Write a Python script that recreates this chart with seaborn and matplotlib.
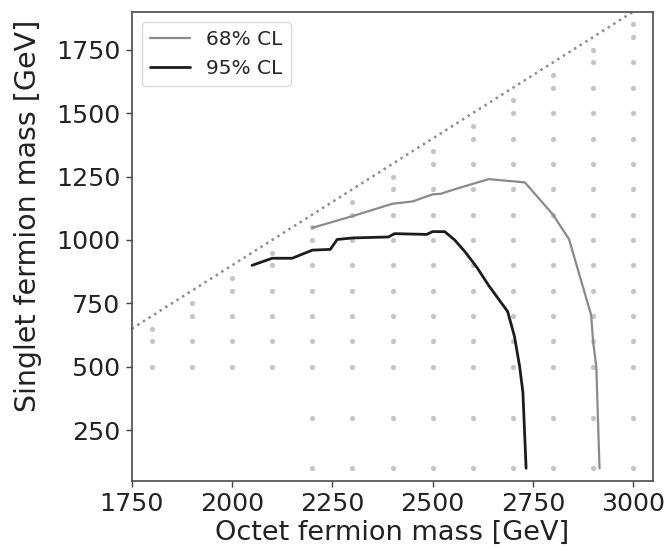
import matplotlib
matplotlib.use("Agg")
import matplotlib.pyplot as plt
import seaborn as sns
import pandas as pd

# 68% CL exclusion contour (octet mass, singlet mass) in GeV
cl68_octet = [2200, 2300, 2400, 2450, 2500, 2520, 2555, 2640, 2730, 2800, 2840,
              2895, 2900, 2908, 2916]
cl68_singlet = [1048, 1094, 1143, 1152, 1180, 1182, 1200, 1240, 1227, 1100, 1003,
                705, 600, 500, 100]

# 95% CL exclusion contour
cl95_octet = [2050, 2100, 2150, 2200, 2245, 2262, 2300, 2390, 2405, 2485, 2500,
              2530, 2555, 2580, 2610, 2640, 2687, 2704, 2717, 2725, 2733]
cl95_singlet = [900, 928, 928, 960, 963, 1002, 1008, 1012, 1025, 1022, 1033,
                1033, 1000, 955, 893, 820, 718, 620, 500, 400, 100]

# Signal scan grid
scan_octet = [1800, 1900, 2000, 2100, 2200, 2300, 2400, 2500, 2600, 2700,
              2800, 2900, 3000]
scan_singlet = [100, 300, 500, 600, 700, 800, 900, 1000, 1100, 1200, 1300,
                1400, 1500, 1600, 1700, 1800]
near_diag_offset = 1150   # extra point just below the kinematic boundary
low_mass_start = 2200     # low singlet masses only scanned from this octet mass

# Kinematic boundary m_S = m_O - 1100
boundary_octet = [1750, 3000]
boundary_singlet = [650, 1900]

grid_x, grid_y = [], []
for mo in scan_octet:
    for ms in scan_singlet:
        if ms <= mo - 1200 and (ms >= 500 or mo >= low_mass_start):
            grid_x.append(mo)
            grid_y.append(ms)
    grid_x.append(mo)
    grid_y.append(mo - near_diag_offset)
grid = pd.DataFrame({"octet": grid_x, "singlet": grid_y})

sns.set_theme(style="ticks")
plt.rcParams["font.family"] = ["DejaVu Sans"]

fig = plt.figure(figsize=(6.71, 5.54), dpi=100)
ax = fig.add_axes([0.1963, 0.1318, 0.7773, 0.8471])

sns.scatterplot(data=grid, x="octet", y="singlet", ax=ax, color="#c4c4c4",
                s=14, marker="o", linewidth=0, zorder=1, legend=False)

ax.plot(boundary_octet, boundary_singlet, linestyle=":", color="#8c8c8c",
        linewidth=1.8, zorder=2)

df68 = pd.DataFrame({"octet": cl68_octet, "singlet": cl68_singlet})
df95 = pd.DataFrame({"octet": cl95_octet, "singlet": cl95_singlet})
sns.lineplot(data=df68, x="octet", y="singlet", sort=False, estimator=None,
             ax=ax, color="#8a8a8a", linewidth=1.6, label="68% CL", zorder=3)
sns.lineplot(data=df95, x="octet", y="singlet", sort=False, estimator=None,
             ax=ax, color="#1c1c1c", linewidth=2.0, label="95% CL", zorder=4)

ax.set_xlim(1750, 3050)
ax.set_ylim(50, 1900)
ax.set_xticks([1750, 2000, 2250, 2500, 2750, 3000])
ax.set_yticks([250, 500, 750, 1000, 1250, 1500, 1750])
ax.set_xlabel("Octet fermion mass [GeV]", fontsize=19.5, color="#222222",
              labelpad=3)
ax.set_ylabel("Singlet fermion mass [GeV]", fontsize=20.5, color="#222222")
ax.yaxis.set_label_coords(-0.172, 0.565)
ax.tick_params(axis="both", labelsize=18.3, length=4.5, width=1.0,
               color="#444444", labelcolor="#222222", direction="out")
for sp in ax.spines.values():
    sp.set_color("#4a4a4a")
    sp.set_linewidth(1.2)

leg = ax.legend(loc="upper left", fontsize=14.5, frameon=True, fancybox=True,
                framealpha=0.8, edgecolor="#d0d0d0", borderaxespad=0.5)

fig.savefig("out.png", dpi=100)
